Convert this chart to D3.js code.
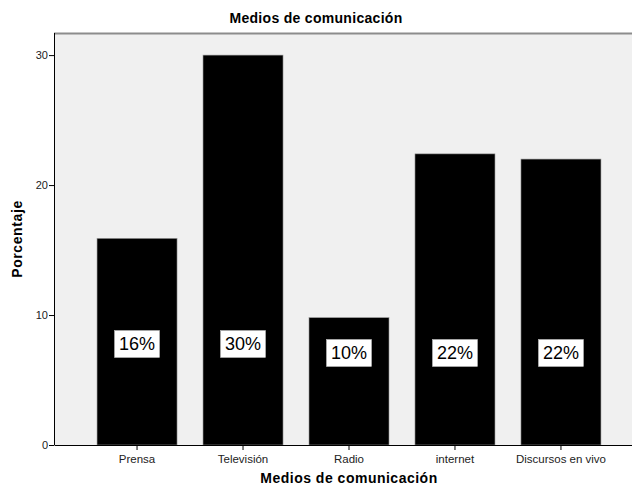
<!DOCTYPE html>
<html>
<head>
<meta charset="utf-8">
<script src="https://cdn.jsdelivr.net/npm/d3@7"></script>
<style>
  html, body { margin: 0; padding: 0; background: #ffffff; }
  svg { display: block; font-family: "Liberation Sans", Arial, sans-serif; }
</style>
</head>
<body>
<svg id="chart" width="632" height="488"></svg>
<script>
// Medios de comunicación: porcentaje por medio
const categories = ["Prensa", "Televisión", "Radio", "internet", "Discursos en vivo"];
const percentages = [15.9, 30.0, 9.8, 22.4, 22.0];
const yTicks = [0, 10, 20, 30];
const chartTitle = "Medios de comunicación";
const xTitle = "Medios de comunicación";
const yTitle = "Porcentaje";

const svg = d3.select("#chart");
const W = 632, H = 488;
const plot = { left: 54, top: 33, right: 644, bottom: 445 };

const x = d3.scaleBand()
  .domain(categories)
  .range([plot.left, plot.right])
  .paddingInner(0.245)
  .paddingOuter(0.406);

const y = d3.scaleLinear()
  .domain([0, 31.7])
  .range([plot.bottom, plot.top]);

// plot background
svg.append("rect")
  .attr("x", plot.left).attr("y", plot.top)
  .attr("width", plot.right - plot.left)
  .attr("height", plot.bottom - plot.top)
  .attr("fill", "#f0f0f0");

// top frame line
svg.append("line")
  .attr("x1", plot.left).attr("x2", plot.right)
  .attr("y1", plot.top + 0.5).attr("y2", plot.top + 0.5)
  .attr("stroke", "#8c8c8c").attr("stroke-width", 2);

// bars
svg.append("g").selectAll("rect")
  .data(categories)
  .join("rect")
  .attr("x", d => x(d))
  .attr("width", x.bandwidth())
  .attr("y", (d, i) => y(percentages[i]))
  .attr("height", (d, i) => y(0) - y(percentages[i]))
  .attr("fill", "#000000")
  .attr("stroke", "#9a9a9a")
  .attr("stroke-width", 0.6);

// y axis
const yAxis = svg.append("g")
  .attr("transform", `translate(${plot.left},0)`)
  .call(d3.axisLeft(y).tickValues(yTicks).tickSize(5).tickSizeOuter(0).tickFormat(d3.format("d")));
yAxis.select(".domain").attr("stroke", "#000").attr("d", `M0.5,${plot.top}V${plot.bottom}`);
yAxis.selectAll(".tick line").attr("stroke", "#000");
yAxis.selectAll(".tick text")
  .attr("font-size", 11).attr("fill", "#222")
  .attr("font-family", "Liberation Sans, Arial, sans-serif")
  .attr("x", -6);

// x axis
const xAxis = svg.append("g")
  .attr("transform", `translate(0,${plot.bottom})`)
  .call(d3.axisBottom(x).tickSize(5).tickSizeOuter(0));
xAxis.select(".domain").attr("stroke", "#000");
xAxis.selectAll(".tick line").attr("stroke", "#000");
xAxis.selectAll(".tick text")
  .attr("font-size", 11.5).attr("fill", "#222")
  .attr("font-family", "Liberation Sans, Arial, sans-serif")
  .attr("dy", "0.85em");

// value labels inside bars
const fmt = v => Math.round(v) + "%";
const labels = svg.append("g").selectAll("g")
  .data(categories)
  .join("g")
  .attr("transform", (d, i) => `translate(${x(d) + x.bandwidth() / 2},${i < 2 ? 344 : 353})`);
labels.append("rect")
  .attr("x", -22.5).attr("y", -13.5)
  .attr("width", 45).attr("height", 27)
  .attr("fill", "#ffffff")
  .attr("stroke", "#c8c8c8").attr("stroke-width", 0.5);
labels.append("text")
  .attr("text-anchor", "middle")
  .attr("dy", "0.36em")
  .attr("font-size", 18)
  .attr("fill", "#000")
  .text((d, i) => fmt(percentages[i]));

// titles
svg.append("text")
  .attr("x", W / 2).attr("y", 23)
  .attr("text-anchor", "middle")
  .attr("font-size", 14).attr("font-weight", "bold")
  .attr("letter-spacing", 0.3)
  .text(chartTitle);

svg.append("text")
  .attr("x", (plot.left + plot.right) / 2).attr("y", 483)
  .attr("text-anchor", "middle")
  .attr("font-size", 14).attr("font-weight", "bold")
  .attr("letter-spacing", 0.5)
  .text(xTitle);

svg.append("text")
  .attr("transform", `translate(22,${(plot.top + plot.bottom) / 2}) rotate(-90)`)
  .attr("text-anchor", "middle")
  .attr("font-size", 14).attr("font-weight", "bold")
  .attr("letter-spacing", 0.6)
  .text(yTitle);
</script>
</body>
</html>
